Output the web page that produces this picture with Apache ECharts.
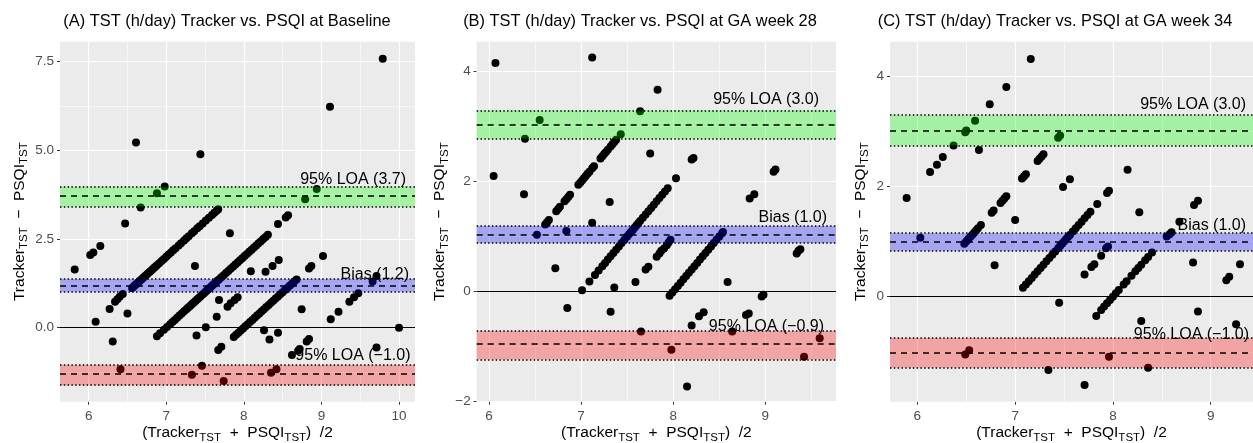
<!DOCTYPE html>
<html><head><meta charset="utf-8">
<script src="https://cdn.jsdelivr.net/npm/echarts@6/dist/echarts.min.js"></script>
<style>html,body{margin:0;padding:0;background:#fff}#c{width:1253px;height:443px}</style>
</head><body><div id="c"></div><script>
// ---------------- DATA ----------------
const titles = [
  '(A) TST (h/day) Tracker vs. PSQI at Baseline',
  '(B) TST (h/day) Tracker vs. PSQI at GA week 28',
  '(C) TST (h/day) Tracker vs. PSQI at GA week 34'
];
// [mean, difference] pairs
const A_scatter = [[9.79,7.58],[9.11,6.23],[6.61,5.22],[7.44,4.89],[6.98,3.98],[6.88,3.79],[6.67,3.39],[8.94,3.91],[8.79,3.62],
  [6.47,2.94],[8.44,2.92],[8.54,3.11],[8.57,3.17],[7.82,2.66],[9.02,2.02],[6.15,2.30],[6.02,2.05],[6.06,2.12],[5.82,1.64],
  [7.37,1.74],[8.09,1.59],[8.28,1.58],[8.37,1.74],[8.45,1.91],[8.84,1.67],[8.87,1.74],[9.71,1.46],[9.66,1.30],[9.475,0.97],
  [9.42,0.86],[9.36,0.73],[9.22,0.45],[9.12,0.24],[10.0,0.0],[9.71,-0.56],[8.745,0.52],[6.09,0.17],[6.27,0.53],[6.34,0.73],
  [6.37,0.80],[6.40,0.87],[6.44,0.95],[6.50,0.40],[6.31,-0.39],[6.41,-1.17],[7.33,-1.33],[7.46,-1.07],[7.74,-1.50],
  [8.35,-1.27],[8.42,-1.17],[8.62,-0.77],[8.70,-0.65],[8.72,-0.60],[8.81,-0.39],[8.84,-0.32],[7.39,-0.22],[7.51,0.01],
  [7.65,0.31],[7.68,0.78],[7.67,-0.63],[7.71,-0.54],[7.79,0.59],[7.83,0.69],[7.88,0.78],[7.92,0.86],[8.26,-0.07],
  [8.33,-0.33],[8.44,-0.14]];
const A_diag6 = [[6.56,1.12],[6.58,1.16],[6.60,1.20],[6.62,1.24],[6.64,1.28],[6.66,1.32],[6.68,1.36],[6.70,1.40],[6.72,1.44],
  [6.74,1.48],[6.76,1.52],[6.78,1.56],[6.80,1.60],[6.82,1.64],[6.84,1.68],[6.86,1.72],[6.88,1.76],[6.91,1.82],[6.94,1.88],
  [6.97,1.94],[7.00,2.00],[7.03,2.06],[7.06,2.12],[7.09,2.18],[7.12,2.24],[7.16,2.32],[7.19,2.38],[7.23,2.46],[7.26,2.52],
  [7.29,2.58],[7.33,2.66],[7.36,2.72],[7.40,2.80],[7.43,2.86],[7.47,2.94],[7.51,3.02],[7.55,3.10],[7.59,3.18],[7.62,3.24],
  [7.65,3.30],[7.67,3.34]];
const A_diag7 = [[6.88,-0.24],[6.92,-0.16],[6.97,-0.06],[7.01,0.02],[7.05,0.10],[7.08,0.16],[7.11,0.22],[7.14,0.28],[7.17,0.34],
  [7.20,0.40],[7.23,0.46],[7.26,0.52],[7.28,0.56],[7.30,0.60],[7.32,0.64],[7.34,0.68],[7.36,0.72],[7.38,0.76],[7.40,0.80],
  [7.42,0.84],[7.44,0.88],[7.46,0.92],[7.48,0.96],[7.50,1.00],[7.52,1.04],[7.54,1.08],[7.56,1.12],[7.58,1.16],[7.60,1.20],
  [7.62,1.24],[7.64,1.28],[7.66,1.32],[7.68,1.36],[7.71,1.42],[7.74,1.48],[7.77,1.54],[7.80,1.60],[7.83,1.66],[7.86,1.72],
  [7.89,1.78],[7.92,1.84],[7.95,1.90],[7.98,1.96],[8.01,2.02],[8.04,2.08],[8.07,2.14],[8.10,2.20],[8.13,2.26],[8.16,2.32],
  [8.19,2.38],[8.22,2.44],[8.25,2.50],[8.28,2.56],[8.31,2.62]];
const A_diag8 = [[7.87,-0.26],[7.90,-0.20],[7.93,-0.14],[7.96,-0.08],[7.99,-0.02],[8.02,0.04],[8.05,0.10],[8.08,0.16],[8.11,0.22],
  [8.14,0.28],[8.17,0.34],[8.20,0.40],[8.23,0.46],[8.26,0.52],[8.29,0.58],[8.32,0.64],[8.35,0.70],[8.38,0.76],[8.41,0.82],
  [8.44,0.88],[8.47,0.94],[8.50,1.00],[8.53,1.06],[8.56,1.12],[8.59,1.18],[8.62,1.24],[8.65,1.30],[8.68,1.36]];

const B_scatter = [[6.07,4.16],[7.12,4.26],[7.83,3.67],[7.64,3.28],[6.55,3.12],[6.39,2.78],[6.05,2.10],[6.38,1.77],[7.31,1.63],
  [7.12,1.25],[7.75,2.51],[6.52,1.03],[6.84,1.10],[6.72,0.42],[6.85,-0.30],[7.36,0.07],[7.32,-0.37],[7.59,0.17],[7.65,-0.73],
  [7.98,-1.06],[8.15,-1.73],[8.20,-0.62],[8.28,-0.45],[8.33,-0.38],[8.59,0.17],[8.64,-0.73],[8.79,-0.43],[8.82,-0.40],
  [8.96,-0.09],[8.98,-0.06],[8.83,1.69],[8.88,1.77],[9.09,2.18],[9.11,2.22],[9.34,0.69],[9.36,0.74],[9.38,0.77],[9.42,-1.19],
  [9.59,-0.85],[8.20,2.40],[8.22,2.43],[7.70,0.40],[7.73,0.45],[7.82,0.63],[7.85,0.69],[7.87,0.74],[7.90,0.78],[7.93,0.84],
  [7.95,0.89],[7.97,0.94]];
const B_diag6 = [[6.61,1.22],[6.63,1.26],[6.65,1.30],[6.73,1.46],[6.75,1.50],[6.77,1.54],[6.82,1.64],[6.84,1.68],[6.86,1.72],
  [6.88,1.76],[6.97,1.94],[6.99,1.98],[7.01,2.02],[7.03,2.06],[7.05,2.10],[7.07,2.14],[7.09,2.18],[7.12,2.24],[7.14,2.28],
  [7.21,2.42],[7.23,2.46],[7.25,2.50],[7.27,2.54],[7.29,2.58],[7.32,2.64],[7.34,2.68],[7.36,2.72],[7.38,2.76],[7.43,2.86]];
const B_diag7 = [[7.01,0.02],[7.09,0.18],[7.15,0.30],[7.19,0.38],[7.23,0.46],[7.26,0.52],[7.29,0.58],[7.32,0.64],[7.35,0.70],
  [7.38,0.76],[7.41,0.82],[7.44,0.88],[7.47,0.94],[7.50,1.00],[7.52,1.04],[7.54,1.08],[7.56,1.12],[7.58,1.16],[7.60,1.20],
  [7.62,1.24],[7.64,1.28],[7.67,1.34],[7.70,1.40],[7.73,1.46],[7.76,1.52],[7.79,1.58],[7.82,1.64],[7.85,1.70],[7.88,1.76],
  [7.91,1.82],[7.94,1.88],[8.03,2.06]];
const B_diag8 = [[7.96,-0.08],[7.99,-0.02],[8.02,0.04],[8.05,0.10],[8.08,0.16],[8.11,0.22],[8.14,0.28],[8.17,0.34],[8.20,0.40],
  [8.23,0.46],[8.26,0.52],[8.29,0.58],[8.32,0.64],[8.35,0.70],[8.38,0.76],[8.41,0.82],[8.44,0.88],[8.47,0.94],[8.50,1.00],
  [8.53,1.06],[8.54,1.08]];

const C_scatter = [[7.16,4.31],[6.91,3.80],[6.74,3.49],[6.59,3.19],[6.49,2.98],[6.50,3.01],[6.37,2.74],[6.26,2.53],[6.20,2.39],
  [6.13,2.26],[5.89,1.79],[6.63,2.66],[6.03,1.07],[7.56,2.13],[7.49,1.99],[7.00,1.39],[6.79,0.57],[7.45,-0.11],[7.34,-1.33],
  [7.71,-1.60],[7.96,-1.09],[6.49,-1.05],[6.53,-0.97],[8.36,-1.29],[8.29,-0.44],[8.87,-0.27],[9.26,-0.50],[9.30,0.59],
  [9.16,0.30],[9.19,0.36],[8.82,0.62],[8.83,1.66],[8.87,1.74],[8.27,1.53],[8.15,2.30],[8.68,1.36],[8.55,1.09],[8.58,1.13],
  [8.60,1.17],[7.83,-0.35],[7.71,0.40],[7.78,0.54],[7.81,0.59],[7.88,0.74],[7.93,0.88],[7.95,0.91]];
const C_diag6 = [[6.48,0.96],[6.50,1.00],[6.52,1.04],[6.54,1.08],[6.56,1.12],[6.58,1.16],[6.60,1.20],[6.62,1.24],[6.65,1.30],
  [6.76,1.52],[6.78,1.56],[6.85,1.70],[6.87,1.74],[6.89,1.78],[6.91,1.82],[7.07,2.14],[7.09,2.18],[7.11,2.22],[7.23,2.46],
  [7.25,2.50],[7.27,2.54],[7.29,2.58],[7.44,2.88],[7.46,2.92]];
const C_diag7 = [[7.08,0.16],[7.11,0.22],[7.14,0.28],[7.17,0.34],[7.20,0.40],[7.23,0.46],[7.26,0.52],[7.29,0.58],[7.32,0.64],
  [7.35,0.70],[7.38,0.76],[7.41,0.82],[7.44,0.88],[7.46,0.92],[7.48,0.96],[7.50,1.00],[7.52,1.04],[7.54,1.08],[7.56,1.12],
  [7.59,1.18],[7.62,1.24],[7.65,1.30],[7.68,1.36],[7.71,1.42],[7.74,1.48],[7.77,1.54],[7.84,1.68],[7.94,1.88],[7.96,1.92]];
const C_diag8 = [[7.88,-0.24],[7.91,-0.18],[7.94,-0.12],[7.97,-0.06],[8.00,0.00],[8.03,0.06],[8.06,0.12],[8.11,0.22],[8.14,0.28],
  [8.19,0.38],[8.23,0.46],[8.26,0.52],[8.29,0.58],[8.33,0.66],[8.36,0.72],[8.40,0.80]];

// limits of agreement: [lower CI, estimate, upper CI]
const upperLOA = [[3.41,3.713,3.975],[2.78,3.04,3.295],[2.74,3.01,3.287]];
const biasLine = [[1.015,1.184,1.373],[0.88,1.04,1.19],[0.834,1.003,1.148]];
const lowerLOA = [[-1.62,-1.31,-1.05],[-1.24,-0.965,-0.72],[-1.287,-1.015,-0.749]];
const upperText = ['95% LOA (3.7)','95% LOA (3.0)','95% LOA (3.0)'];
const biasText  = ['Bias (1.2)','Bias (1.0)','Bias (1.0)'];
const lowerText = ['95% LOA (\u22121.0)','95% LOA (\u22120.9)','95% LOA (\u22121.0)'];

// ticks
const xTicks = [[6,7,8,9,10],[6,7,8,9],[6,7,8,9]];
const xMinor = [[6.5,7.5,8.5,9.5],[6.5,7.5,8.5,9.5],[6.5,7.5,8.5]];
const yTicks = [[0,2.5,5,7.5],[-2,0,2,4],[0,2,4]];
const yMinor = [[-1.25,1.25,3.75,6.25],[-1,1,3],[-1,1,3]];

// ---------------- LAYOUT / STYLE ----------------
const FONT = '"Liberation Sans", Arial, Helvetica, sans-serif';
const layout = [
  {left:60, width:355, xMin:5.6305, xMax:10.206, yMin:-2.086, yMax:8.064, titleX:227, yGap:30,
   off:[[9,6.7],[6,4],[4.5,9]], dec:1},
  {left:476.67, width:359.33, xMin:5.866, xMax:9.767, yMin:-2.006, yMax:4.546, titleX:640, yGap:26,
   off:[[17,10.7],[9,8.4],[12,4]], dec:0},
  {left:890, width:363, xMin:5.72, xMax:9.433, yMin:-1.903, yMax:4.622, titleX:1055, yGap:19,
   off:[[7,11],[7,7.6],[4,3]], dec:0}
];
const TOP = 41.67, H = 360;
const rich = {
  n: {fontSize:15.5, fontFamily:FONT, color:'#000'},
  s: {fontSize:11.5, fontFamily:FONT, color:'#000', padding:[9,0,0,0]}
};
const xName = '{n|(Tracker}{s|TST}{n|  +  PSQI}{s|TST}{n|)  /2}';
const yName = '{n|Tracker}{s|TST}{n|  \u2212  PSQI}{s|TST}';
const fmtNum = (v, d) => (v < 0 ? '\u2212' : '') + Math.abs(v).toFixed(d);

const grids = [], xAxes = [], yAxes = [], series = [], graphics = [];
const allPts = [[A_scatter,A_diag6,A_diag7,A_diag8],[B_scatter,B_diag6,B_diag7,B_diag8],[C_scatter,C_diag6,C_diag7,C_diag8]];
const bandColors = ['rgba(0,255,0,0.3)','rgba(0,0,255,0.3)','rgba(255,0,0,0.3)'];
const dashed = [6,5], dotted = [1.5,2.3];

layout.forEach((L, i) => {
  grids.push({left:L.left, top:TOP, width:L.width, height:H, show:true, backgroundColor:'#ebebeb', borderWidth:0,
    containLabel:false, outerBoundsMode:'none'});
  xAxes.push({type:'value', gridIndex:i, min:L.xMin, max:L.xMax,
    axisLine:{show:false, onZero:false},
    axisTick:{show:true, length:3, lineStyle:{color:'#333', width:1}, customValues:xTicks[i]},
    axisLabel:{customValues:xTicks[i], color:'#4d4d4d', fontSize:13.5, fontFamily:FONT, margin:8,
      formatter: v => String(v)},
    splitLine:{show:false},
    name:xName, nameLocation:'middle', nameGap:21, nameMoveOverlap:false, nameTextStyle:{rich}});
  yAxes.push({type:'value', gridIndex:i, min:L.yMin, max:L.yMax,
    axisLine:{show:false, onZero:false},
    axisTick:{show:true, length:3, lineStyle:{color:'#333', width:1}, customValues:yTicks[i]},
    axisLabel:{customValues:yTicks[i], color:'#4d4d4d', fontSize:13.5, fontFamily:FONT, margin:6,
      formatter: v => fmtNum(v, L.dec)},
    splitLine:{show:false},
    name:yName, nameLocation:'middle', nameRotate:90, nameGap:L.yGap, nameTextStyle:{rich}});

  const major = {color:'#ffffff', width:1.2, type:'solid'};
  const minor = {color:'#ffffff', width:0.6, type:'solid'};
  series.push({type:'scatter', xAxisIndex:i, yAxisIndex:i, data:[], z:1, silent:true,
    markLine:{z:1, silent:true, symbol:['none','none'], label:{show:false}, animation:false,
      data:[].concat(
        xMinor[i].map(v => ({xAxis:v, lineStyle:minor})),
        yMinor[i].map(v => ({yAxis:v, lineStyle:minor})),
        xTicks[i].map(v => ({xAxis:v, lineStyle:major})),
        yTicks[i].map(v => ({yAxis:v, lineStyle:major})))}});

  series.push({type:'scatter', xAxisIndex:i, yAxisIndex:i, z:2, symbolSize:8, silent:true,
    itemStyle:{color:'#000', opacity:1}, data:[].concat(...allPts[i])});

  const bands = [upperLOA[i], biasLine[i], lowerLOA[i]];
  series.push({type:'scatter', xAxisIndex:i, yAxisIndex:i, data:[], z:3, silent:true,
    markArea:{z:3, silent:true, animation:false, label:{show:false},
      data: bands.map((b, k) => [{yAxis:b[0], itemStyle:{color:bandColors[k], opacity:1}}, {yAxis:b[2]}])}});

  const lines = [{yAxis:0, lineStyle:{color:'#000', width:1.1, type:'solid'}}];
  bands.forEach(b => {
    lines.push({yAxis:b[1], lineStyle:{color:'#000', width:1.5, type:dashed}});
    lines.push({yAxis:b[0], lineStyle:{color:'#000', width:1.5, type:dotted}});
    lines.push({yAxis:b[2], lineStyle:{color:'#000', width:1.5, type:dotted}});
  });
  const texts = [upperText[i], biasText[i], lowerText[i]];
  series.push({type:'scatter', xAxisIndex:i, yAxisIndex:i, data:[], z:4, silent:true,
    markLine:{z:4, silent:true, symbol:['none','none'], label:{show:false}, animation:false, data:lines},
    markPoint:{z:5, silent:true, animation:false, symbol:'circle', symbolSize:0,
      data: bands.map((b, k) => ({coord:[L.xMax, b[2]], itemStyle:{color:'rgba(0,0,0,0)'},
        label:{show:true, position:'left', distance:0, formatter:texts[k], color:'#000',
          fontSize:16, fontFamily:FONT, offset:[-L.off[k][0], -L.off[k][1]]}}))}});

  graphics.push({type:'text', x:L.titleX, y:21, silent:true,
    style:{text:titles[i], fontSize:16.4, fontFamily:FONT, fill:'#000', align:'center', verticalAlign:'middle'}});
});

const chart = echarts.init(document.getElementById('c'), null, {renderer:'canvas'});
chart.setOption({animation:false, backgroundColor:'#fff', grid:grids, xAxis:xAxes, yAxis:yAxes, series, graphic:graphics});
</script></body></html>
